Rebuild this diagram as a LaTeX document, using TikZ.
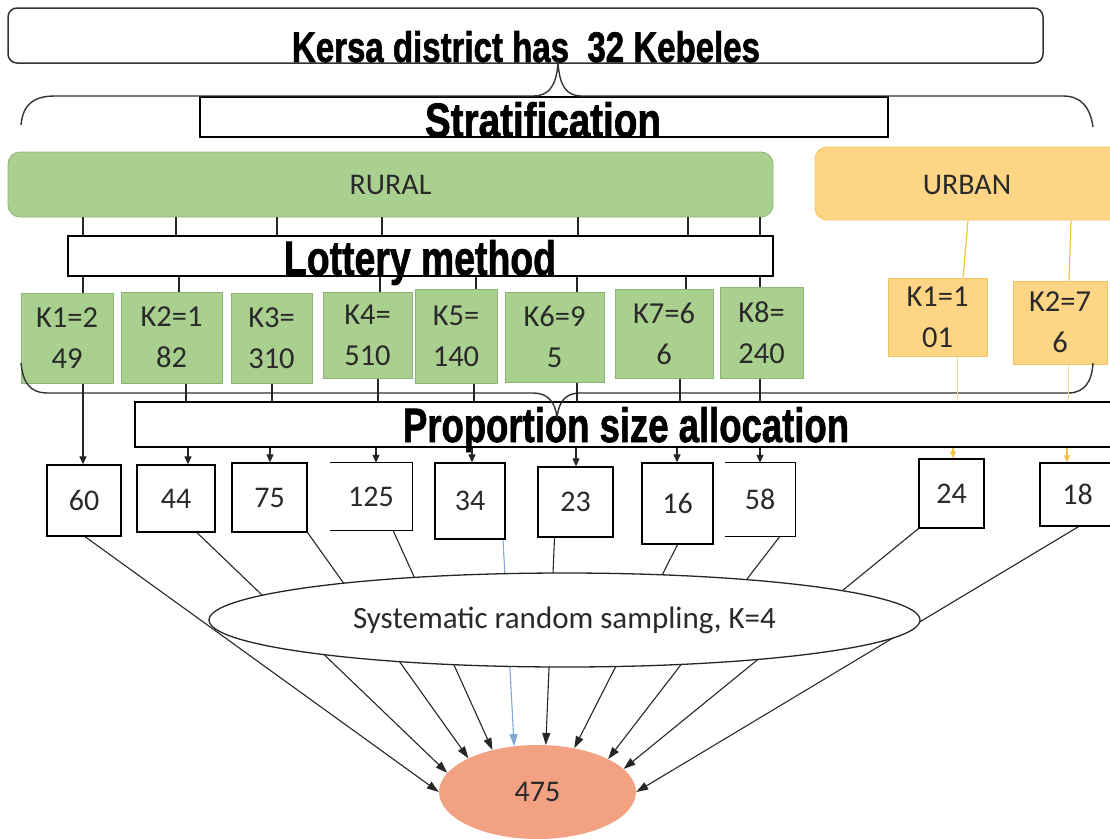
\documentclass[tikz,border=0pt]{standalone}
\usepackage{fontspec}
\setmainfont{Carlito}
\newfontfamily\hfont[FakeBold=1.6]{Liberation Sans}
\usetikzlibrary{arrows.meta,calc,shapes.geometric,backgrounds}
\definecolor{rfill}{HTML}{A9D08E}
\definecolor{rdraw}{HTML}{8DB474}
\definecolor{ufill}{HTML}{FDD584}
\definecolor{udraw}{HTML}{F2C464}
\definecolor{uline}{HTML}{F0C44A}
\definecolor{salmon}{HTML}{F2A283}
\definecolor{bline}{HTML}{7FA7D6}
\definecolor{txt}{HTML}{2A2A2A}
\newcommand{\hd}[3]{\resizebox{#1pt}{#2pt}{\hfont\bfseries #3}}
\tikzset{
  hbox/.style={draw=black, line width=1.5pt, inner sep=0pt},
  ttlbox/.style={draw=black!80, line width=1.5pt, rounded corners=9pt, inner sep=0pt},
  htext/.style={anchor=base, inner sep=0pt},
  catbox/.style={rounded corners=12pt, inner sep=0pt, line width=0.8pt, text=txt,
                 font=\fontsize{30}{41}\selectfont},
  kbox/.style={draw=rdraw, fill=rfill, line width=1pt, inner sep=0pt, align=center,
               text=txt, font=\fontsize{30.5}{41}\selectfont},
  ukbox/.style={draw=udraw, fill=ufill, line width=1pt, inner sep=0pt, align=center,
               text=txt, font=\fontsize{30.5}{41}\selectfont},
  nbox/.style={draw=black, line width=1.3pt, inner sep=0pt, text=txt,
               font=\fontsize{30}{35}\selectfont},
  nboxo/.style={inner sep=0pt, text=txt, font=\fontsize{30}{35}\selectfont},
  tick/.style={draw=black!85, line width=1.2pt},
  sarr/.style={draw=black!85, line width=1.2pt, -{Triangle[length=8pt,width=7pt]}},
  yarr/.style={draw=uline, line width=1.2pt, -{Triangle[length=7pt,width=6pt]}},
  ytick/.style={draw=uline, line width=1.2pt},
  faint/.style={draw=uline!60, line width=1pt},
  conn/.style={draw=black!85, line width=1.1pt, -{Triangle[length=12pt,width=8pt]}},
  bconn/.style={draw=bline, line width=1.1pt, -{Triangle[length=12pt,width=8pt]}},
  brace/.style={draw=black!80, line width=1.4pt},
}
\begin{document}
\begin{tikzpicture}[x=1pt,y=-1pt]
\useasboundingbox (0,0) rectangle (1110,838);

% header boxes
\node[ttlbox, minimum width=1035pt, minimum height=55pt] (ttl) at (525.5,35.5) {};
\node[htext] (ttlt) at (526,62) {\hd{468}{31}{Kersa district has\ \ 32 Kebeles}};

\node[hbox, minimum width=688pt, minimum height=40pt] (strat) at (544,117) {};
\node[htext] (stratt) at (543,137) {\hd{236}{35}{Stratification}};

% categories
\node[catbox, draw=rdraw, fill=rfill, minimum width=765pt, minimum height=65pt] (rural) at (390.5,184.5) {RURAL};
\node[catbox, draw=udraw, fill=ufill, minimum width=310pt, minimum height=73pt] (urban) at (970,183.5) {};
\node[text=txt, font=\fontsize{30}{41}\selectfont, inner sep=0pt] (urbant) at (967,184.5) {URBAN};

\node[hbox, minimum width=705pt, minimum height=40pt] (lot) at (420.5,256) {};
\node[htext] (lott) at (420,275) {\hd{272}{35}{Lottery method}};

% kebele boxes
\node[kbox, minimum width=92pt,  minimum height=90pt] (k1) at (67,338)    {K1=2\\49};
\node[kbox, minimum width=101pt, minimum height=91pt] (k2) at (171.5,337.5) {K2=1\\82};
\node[kbox, minimum width=81pt,  minimum height=90pt] (k3) at (271.5,338)  {K3=\\310};
\node[kbox, minimum width=89pt,  minimum height=86pt] (k4) at (367.5,335)  {K4=\\510};
\node[kbox, minimum width=82pt,  minimum height=94pt] (k5) at (456,336)    {K5=\\140};
\node[kbox, minimum width=99pt,  minimum height=90pt] (k6) at (554.5,337)  {K6=9\\5};
\node[kbox, minimum width=98pt,  minimum height=89pt] (k7) at (664,333.5)  {K7=6\\6};
\node[kbox, minimum width=83pt,  minimum height=91pt] (k8) at (761.5,332.5) {K8=\\240};
\node[ukbox, minimum width=99pt, minimum height=78pt] (uk1) at (937.5,317) {K1=1\\01};
\node[ukbox, minimum width=94pt, minimum height=83pt] (uk2) at (1060,322.5) {K2=7\\6};

\node[hbox, minimum width=982pt, minimum height=45pt] (prop) at (626,424.5) {};
\node[htext] (propt) at (626,442) {\hd{446}{35}{Proportion size allocation}};

% sample boxes
\node[nbox, minimum width=74pt, minimum height=71pt] (n60) at (84,500.5) {60};
\node[nbox, minimum width=78pt, minimum height=67pt] (n44) at (176,498.5) {44};
\node[nbox, minimum width=75pt, minimum height=69pt] (n75) at (269.5,497.5) {75};
\node[nboxo, minimum width=82pt, minimum height=67pt] (n125) at (371,496.5) {125};
\node[nbox, minimum width=70pt, minimum height=76pt] (n34) at (470,501) {34};
\node[nbox, minimum width=75pt, minimum height=70pt] (n23) at (575.5,502) {23};
\node[nbox, minimum width=71pt, minimum height=81pt] (n16) at (677.5,503.5) {16};
\node[nboxo, minimum width=70pt, minimum height=73pt] (n58) at (760,499.5) {58};
\node[nbox, minimum width=65pt, minimum height=69pt] (n24) at (951.5,493.5) {24};
\node[nbox, minimum width=75pt, minimum height=63pt] (n18) at (1077.5,494.5) {18};
\draw[line width=1.3pt] (n125.north west) -- (n125.north east) -- (n125.south east) -- (n125.south west);
\draw[line width=1.3pt] (n58.north west) -- (n58.north east) -- (n58.south east) -- (n58.south west);

% sampling ellipses
\node[ellipse, draw=black!85, line width=1.3pt, fill=white, inner sep=0pt,
      minimum width=711pt, minimum height=94pt, text=txt,
      font=\fontsize{31}{36}\selectfont] (sys) at (564.5,620) {Systematic random sampling, K=4};
\node[ellipse, fill=salmon, inner sep=0pt, minimum width=197pt, minimum height=94pt,
      text=txt, font=\fontsize{30}{36}\selectfont] (tot) at (537.5,792) {475};

% braces
\draw[brace] (21,125) .. controls (23,104) and (34,96) .. (55,96) -- (533,96)
  .. controls (549,96) and (556,86) .. (ttl.south -| 558,0)
  .. controls (560,86) and (566,96) .. (582,96) -- (1063,96)
  .. controls (1080,96) and (1090,106) .. (1093,127);
\draw[brace] (21,363) .. controls (23,383) and (30,393) .. (48,393) -- (533,393)
  .. controls (548,393) and (555,402) .. (557,417)
  .. controls (559,402) and (565,393) .. (580,393) -- (1068,393)
  .. controls (1085,393) and (1092,381) .. (1093,363);

% rural -> lottery ticks
\foreach \x in {83,176,277,382,578,688,760}
  \draw[tick] (rural.south -| \x,0) -- (lot.north -| \x,0);
% lottery -> kebele ticks
\draw[tick] (lot.south -| 83,0) -- (k1.north -| 83,0);
\draw[tick] (lot.south -| 179,0) -- (k2.north -| 179,0);
\draw[tick] (lot.south -| 380,0) -- (k4.north -| 380,0);
\draw[tick] (lot.south -| 476,0) -- (k5.north -| 476,0);
\draw[tick] (lot.south -| 577,0) -- (k6.north -| 577,0);
\draw[tick] (lot.south -| 686,0) -- (k7.north -| 686,0);
\draw[tick] (lot.south -| 760,0) -- (k8.north -| 760,0);
% kebele -> proportion
\draw[sarr] (k1.south -| 83,0) -- (n60.north -| 83,0);
\draw[tick] (k2.south -| 186,0) -- (prop.north -| 186,0);
\draw[tick] (k3.south -| 272,0) -- (prop.north -| 272,0);
\draw[tick] (k4.south -| 378,0) -- (prop.north -| 378,0);
\draw[tick] (k5.south -| 474,0) -- (prop.north -| 474,0);
\draw[tick] (k6.south -| 577,0) -- (prop.north -| 577,0);
\draw[tick] (k7.south -| 680,0) -- (prop.north -| 680,0);
\draw[tick] (k8.south -| 760,0) -- (prop.north -| 760,0);
% proportion -> sample boxes
\draw[sarr] (prop.south -| 188,0) -- (n44.north -| 188,0);
\draw[sarr] (prop.south -| 270,0) -- (n75.north -| 270,0);
\draw[sarr] (prop.south -| 376,0) -- (n125.north -| 376,0);
\draw[sarr] (prop.south -| 472,0) -- (n34.north -| 472,0);
\draw[sarr] (prop.south -| 576,0) -- (n23.north -| 576,0);
\draw[sarr] (prop.south -| 677,0) -- (n16.north -| 677,0);
\draw[sarr] (prop.south -| 760,0) -- (n58.north -| 760,0);
% urban
\draw[ytick] (urban.south -| 968,0) -- (uk1.north -| 963,0);
\draw[ytick] (urban.south -| 1071,0) -- (uk2.north -| 1069,0);
\draw[faint] (uk1.south -| 957,0) -- (prop.north -| 957,0);
\draw[faint] (uk2.south -| 1068,0) -- (prop.north -| 1068,0);
\draw[yarr] (prop.south -| 953,0) -- (n24.north -| 953,0);
\draw[yarr] (prop.south -| 1067,0) -- (n18.north -| 1067,0);

% sample boxes -> total (behind the systematic ellipse)
\begin{scope}[on background layer]
\draw[conn] ([xshift=1pt]n60.south) -- (tot.180);
\draw[conn] ([xshift=21pt]n44.south) -- (tot.168);
\draw[conn] (n75.south east) -- (tot.154);
\draw[conn] ([xshift=22pt]n125.south) -- (tot.137);
\draw[bconn] ([xshift=33pt]n34.south) -- (tot.117);
\draw[conn] ([xshift=-21pt]n23.south) -- (tot.80);
\draw[conn] (n16.south) -- (tot.50);
\draw[conn] ([xshift=20pt]n58.south) -- (tot.25);
\draw[conn] (n24.south west) -- (tot.15);
\draw[conn] ([xshift=1pt]n18.south) -- (tot.0);
\end{scope}
\end{tikzpicture}
\end{document}
